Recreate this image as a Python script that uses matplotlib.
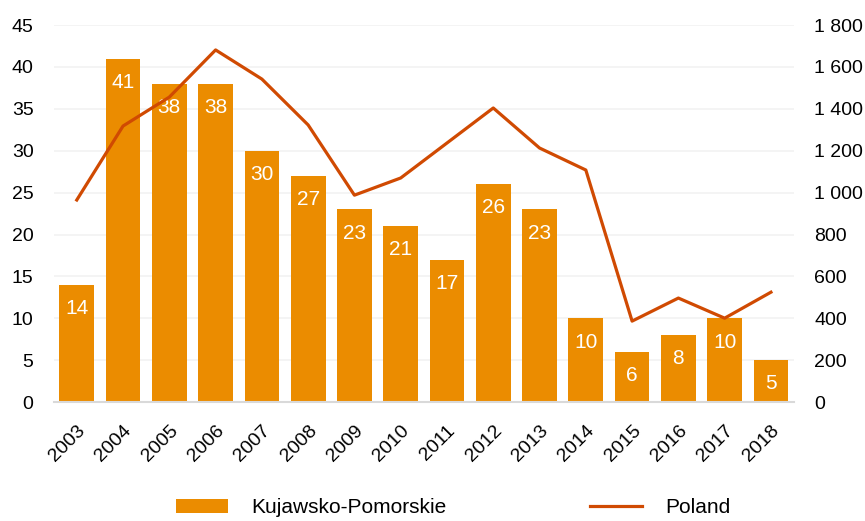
import numpy as np
import matplotlib.pyplot as plt
import matplotlib.transforms as mtransforms
from matplotlib.ticker import FuncFormatter

plt.rcParams['font.family'] = ['Liberation Sans', 'DejaVu Sans']

# data
years = ['2003', '2004', '2005', '2006', '2007', '2008', '2009', '2010',
         '2011', '2012', '2013', '2014', '2015', '2016', '2017', '2018']
kujawsko = [14, 41, 38, 38, 30, 27, 23, 21, 17, 26, 23, 10, 6, 8, 10, 5]
poland = [965, 1318, 1456, 1681, 1542, 1323, 988, 1070,
          1237, 1404, 1213, 1108, 387, 497, 401, 525]

bar_color = '#EB8C00'
line_color = '#D04A02'

fig = plt.figure(figsize=(8.65, 5.21), dpi=100)
ax = fig.add_axes([0.062, 0.228, 0.856, 0.724])
ax2 = ax.twinx()

x = np.arange(len(years))
ax.bar(x, kujawsko, width=0.75, color=bar_color, zorder=2,
       label='Kujawsko-Pomorskie')
for xi, v in zip(x, kujawsko):
    ax.annotate(str(v), (xi, v), xytext=(0, -17), textcoords='offset points',
                ha='center', va='center', color='white', fontsize=15)

ax2.plot(x, poland, color=line_color, linewidth=2.3, label='Poland')

ax.set_xlim(-0.5, 15.5)
ax.set_ylim(0, 45)
ax.set_yticks(range(0, 46, 5))
ax2.set_ylim(0, 1800)
ax2.set_yticks(range(0, 1801, 200))
ax2.yaxis.set_major_formatter(FuncFormatter(lambda v, p: f'{int(v):,}'.replace(',', ' ')))

ax.set_xticks(x)
ax.set_xticklabels(years, rotation=45, ha='right', rotation_mode='anchor')
# nudge the rotated year labels a little left
shift = mtransforms.ScaledTranslation(-4 / 100, 0, fig.dpi_scale_trans)
for lab in ax.get_xticklabels():
    lab.set_transform(lab.get_transform() + shift)
ax.grid(axis='y', color='#F2F2F2', linewidth=1.2, zorder=0)
ax.set_axisbelow(True)

for a in (ax, ax2):
    for s in a.spines.values():
        s.set_visible(False)
    a.tick_params(length=0, labelsize=14, colors='#000000')
ax.spines['bottom'].set_visible(True)
ax.spines['bottom'].set_color('#D9D9D9')
ax.spines['bottom'].set_linewidth(1.5)
ax.tick_params(axis='x', pad=14)
ax.tick_params(axis='y', pad=14.5)
ax2.tick_params(axis='y', pad=14.5)

h1, l1 = ax.get_legend_handles_labels()
h2, l2 = ax2.get_legend_handles_labels()
fig.legend(h1 + h2, l1 + l2, loc='center', bbox_to_anchor=(0.524, 0.025),
           ncol=2, frameon=False, fontsize=15, columnspacing=6.9,
           handlelength=2.5, handletextpad=1.1)

fig.savefig('out.png', dpi=100)
